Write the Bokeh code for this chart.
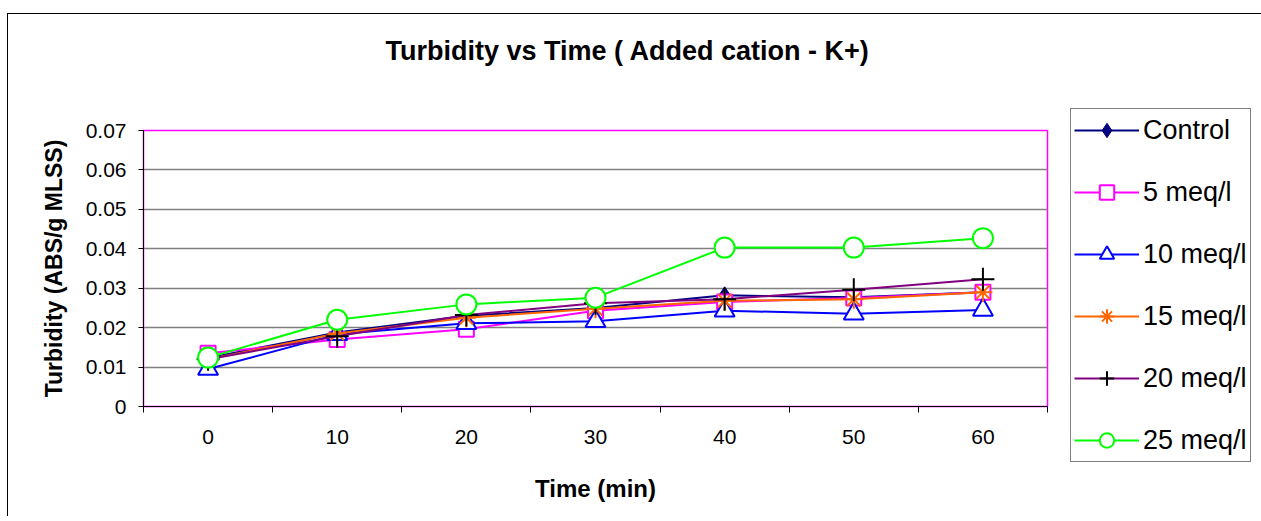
from bokeh.plotting import figure
from bokeh.models import (FixedTicker, NumeralTickFormatter, Legend, LegendItem, Range1d, Title)
from bokeh.embed import file_html
from bokeh.resources import INLINE

time = [0, 10, 20, 30, 40, 50, 60]
control = [0.0123, 0.0188, 0.0230, 0.0250, 0.0282, 0.0277, 0.0290]
meq5 = [0.0135, 0.0170, 0.0196, 0.0243, 0.0265, 0.0275, 0.0290]
meq10 = [0.0095, 0.0183, 0.0211, 0.0216, 0.0243, 0.0235, 0.0245]
meq15 = [0.0120, 0.0185, 0.0225, 0.0248, 0.0268, 0.0272, 0.0290]
meq20 = [0.0120, 0.0178, 0.0232, 0.0262, 0.0272, 0.0296, 0.0323]
meq25 = [0.0124, 0.0220, 0.0259, 0.0276, 0.0403, 0.0403, 0.0427]
y_ticks = [0, 0.01, 0.02, 0.03, 0.04, 0.05, 0.06, 0.07]
x_bounds = [-5, 5, 15, 25, 35, 45, 55, 65]

FONT = "Liberation Sans"

p = figure(frame_width=904, frame_height=276, output_backend="svg", toolbar_location=None,
           x_range=Range1d(-5, 65), y_range=Range1d(0, 0.07),
           min_border_left=135, min_border_top=116, min_border_right=214, min_border_bottom=110,
           background_fill_color="white", border_fill_color="white")
p.styles = {"margin-left": "7px", "margin-top": "13px", "border-left": "1px solid black",
            "border-top": "1px solid black"}
p.outline_line_color = "#FF00FF"
p.outline_line_width = 1.5

t = Title(text="Turbidity  vs Time ( Added cation - K+)\n \n ", align="left", offset=242,
          text_font=FONT, text_font_size="27px", text_font_style="bold", standoff=6,
          vertical_align="top", text_color="black")
p.add_layout(t, "above")

p.xaxis.ticker = FixedTicker(ticks=time, minor_ticks=x_bounds)
p.xaxis.major_tick_line_color = None
p.xaxis.minor_tick_out = 6
p.xaxis.minor_tick_in = 0
p.xaxis.minor_tick_line_color = "black"
p.xaxis.axis_line_color = "black"
p.xaxis.major_label_text_font = FONT
p.xaxis.major_label_text_font_size = "21px"
p.xaxis.major_label_text_color = "black"
p.xaxis.major_label_standoff = 17
p.xaxis.axis_label = "Time (min)"
p.xaxis.axis_label_text_font = FONT
p.xaxis.axis_label_text_font_size = "24px"
p.xaxis.axis_label_text_font_style = "bold"
p.xaxis.axis_label_text_color = "black"
p.xaxis.axis_label_standoff = 28

p.yaxis.ticker = FixedTicker(ticks=y_ticks)
p.yaxis.formatter = NumeralTickFormatter(format="0.[00]")
p.yaxis.major_tick_out = 5
p.yaxis.major_tick_in = 0
p.yaxis.minor_tick_line_color = None
p.yaxis.axis_line_color = "black"
p.yaxis.major_label_text_font = FONT
p.yaxis.major_label_text_font_size = "21px"
p.yaxis.major_label_text_color = "black"
p.yaxis.major_label_standoff = 12
p.yaxis.axis_label = "Turbidity (ABS/g MLSS)"
p.yaxis.axis_label_text_font = FONT
p.yaxis.axis_label_text_font_size = "23px"
p.yaxis.axis_label_text_font_style = "bold"
p.yaxis.axis_label_text_color = "black"
p.yaxis.axis_label_standoff = 16

p.xgrid.grid_line_color = None
p.ygrid.grid_line_color = "#808080"
p.ygrid.grid_line_width = 1.5

items = []

def series(y, line_color, marker, mcolor, fill, size, label, mlw=2):
    r1 = p.line(time, y, line_color=line_color, line_width=2)
    r2 = p.scatter(time, y, marker=marker, size=size, line_color=mcolor, fill_color=fill,
                   line_width=mlw)
    items.append(LegendItem(label=label, renderers=[r1, r2]))

series(control, "#000080", "diamond", "#000080", "#000080", 17, "Control", 1)
series(meq5, "#FF00FF", "square", "#FF00FF", "white", 15, "5 meq/l")
series(meq10, "#0000FF", "triangle", "#0000FF", "white", 20, "10 meq/l")
series(meq15, "#FF6600", "asterisk", "#FF6600", None, 19, "15 meq/l")
series(meq20, "#800080", "cross", "black", None, 23, "20 meq/l")
series(meq25, "#00FF00", "circle", "#00FF00", "white", 20, "25 meq/l")

legend = Legend(items=items, location=(23, -56), orientation="vertical",
                label_text_font=FONT, label_text_font_size="27px", label_text_color="black",
                label_height=30, glyph_height=36, glyph_width=65, spacing=26,
                padding=3, margin=0, label_standoff=4,
                border_line_color="black", border_line_width=1,
                background_fill_color="white", background_fill_alpha=1)
p.add_layout(legend, "right")

open("out.html", "w").write(file_html(p, INLINE))
